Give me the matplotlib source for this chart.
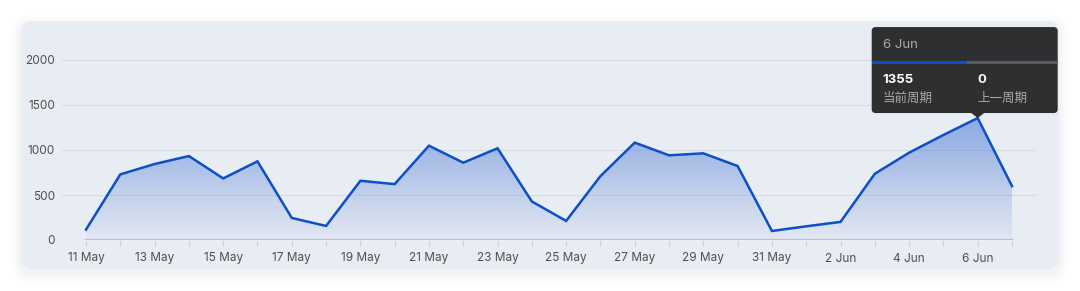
import matplotlib
matplotlib.use("Agg")
import matplotlib.pyplot as plt
from matplotlib.patches import FancyBboxPatch, Rectangle, Polygon
from datetime import date, timedelta
import numpy as np

plt.rcParams["font.family"] = ["Inter", "Noto Sans CJK SC", "DejaVu Sans"]

# data: daily values, 11 May .. 7 Jun
start_day = date(2024, 5, 11)
values = [115, 729, 844, 933, 684, 874, 245, 156, 658, 621, 1048, 859, 1019, 428,
          212, 710, 1082, 941, 963, 822, 100, 152, 201, 736, 970, 1167, 1355, 599]
day_labels = [f"{(start_day + timedelta(days=i)).day} {(start_day + timedelta(days=i)).strftime('%b')}"
              for i in range(len(values))]
y_ticks = [0, 500, 1000, 1500, 2000]

tip_index = 26
tip_title = "6 Jun"
tip_current = 1355
tip_previous = 0
tip_labels = ["当前周期", "上一周期"]

W, H = 1080, 291
LINE = "#0c4fc6"
fig = plt.figure(figsize=(W / 100, H / 100), dpi=100)
fig.patch.set_facecolor("#ffffff")

# background card in pixel coordinates
bg = fig.add_axes([0, 0, 1, 1], zorder=0)
bg.set_xlim(0, W)
bg.set_ylim(H, 0)
bg.axis("off")
for i, a in enumerate([0.008, 0.010, 0.013, 0.017, 0.022]):
    grow = 10 - 2 * i
    bg.add_patch(FancyBboxPatch((21 - grow, 21 - grow + 4), 1038 + 2 * grow, 248 + 2 * grow,
                                boxstyle=f"round,pad=0,rounding_size={12 + grow}",
                                fc="#6a7898", ec="none", alpha=a))
bg.add_patch(FancyBboxPatch((21, 21), 1038, 248, boxstyle="round,pad=0,rounding_size=12",
                            fc="#e8ecf3", ec="none"))

# chart axes
ax = fig.add_axes([62 / W, 51 / H, 974 / W, 180 / H], zorder=1)
ax.patch.set_alpha(0)
x = np.arange(len(values))
ax.set_xlim(-0.7, len(values) - 1 + 0.7)
ax.set_ylim(0, 2000)

for yv in y_ticks:
    ax.axhline(yv, color="#d8dbe1", lw=0.8, zorder=0)

# gradient fill under the line
vmax = max(values)
grad = np.linspace(0, 1, 256).reshape(-1, 1)
rgba = np.zeros((256, 1, 4))
rgba[..., 0], rgba[..., 1], rgba[..., 2] = 0.10, 0.34, 0.80
rgba[..., 3] = 0.03 + 0.42 * grad
img = ax.imshow(rgba, extent=[x[0], x[-1], 0, vmax], origin="lower", aspect="auto", zorder=1)
clip = Polygon(np.vstack([[x[0], 0], np.column_stack([x, values]), [x[-1], 0]]),
               closed=True, transform=ax.transData, fc="none", ec="none")
ax.add_patch(clip)
img.set_clip_path(clip)

ax.plot(x, values, color=LINE, lw=1.8, zorder=3, solid_joinstyle="miter")
ax.plot([x[0], x[-1]], [0, 0], color="#c4bcd2", lw=1.6, zorder=2)

for s in ax.spines.values():
    s.set_visible(False)
ax.set_yticks(y_ticks)
ax.set_yticklabels([str(v) for v in y_ticks])
ax.tick_params(axis="y", length=0, pad=5, labelsize=8.5, labelcolor="#505050")
ax.set_xticks(x[::2])
ax.set_xticklabels(day_labels[::2])
ax.set_xticks(x, minor=True)
ax.tick_params(axis="x", which="both", length=4, color="#d0d3d9", width=0.8,
               labelsize=8.5, labelcolor="#505050", pad=5)

# tooltip overlay
ov = fig.add_axes([0, 0, 1, 1], zorder=2)
ov.set_xlim(0, W)
ov.set_ylim(H, 0)
ov.axis("off")
fig.canvas.draw()
px, py = ax.transData.transform((x[tip_index], values[tip_index]))
tx, ty = px, H - py
bx0, bx1 = tx - 106, tx + 80
by1 = ty - 5
by0 = by1 - 86
ov.add_patch(FancyBboxPatch((bx0, by0), bx1 - bx0, by1 - by0,
                            boxstyle="round,pad=0,rounding_size=4", fc="#2e2f31", ec="none"))
ov.add_patch(Polygon([[tx - 7, by1 - 0.5], [tx + 7, by1 - 0.5], [tx, by1 + 5]],
                     closed=True, fc="#2e2f31", ec="none"))
mid = (bx0 + bx1) / 2 + 2
ov.add_patch(Rectangle((bx0, by0 + 34), mid - bx0, 3, fc="#0c4fc6", ec="none"))
ov.add_patch(Rectangle((mid, by0 + 34), bx1 - mid, 3, fc="#5a5b5e", ec="none"))
ov.text(bx0 + 11, by0 + 18, tip_title, color="#a8a9ab", fontsize=9.5, va="center", ha="left")
ov.text(bx0 + 11, by0 + 53, str(tip_current), color="#ffffff", fontsize=9.5,
        fontweight="bold", va="center", ha="left")
ov.text(mid + 11, by0 + 53, str(tip_previous), color="#ffffff", fontsize=9.5,
        fontweight="bold", va="center", ha="left")
ov.text(bx0 + 11, by0 + 72, tip_labels[0], color="#a8a9ab", fontsize=9, va="center", ha="left")
ov.text(mid + 11, by0 + 72, tip_labels[1], color="#a8a9ab", fontsize=9, va="center", ha="left")

fig.savefig("out.png", dpi=100)
